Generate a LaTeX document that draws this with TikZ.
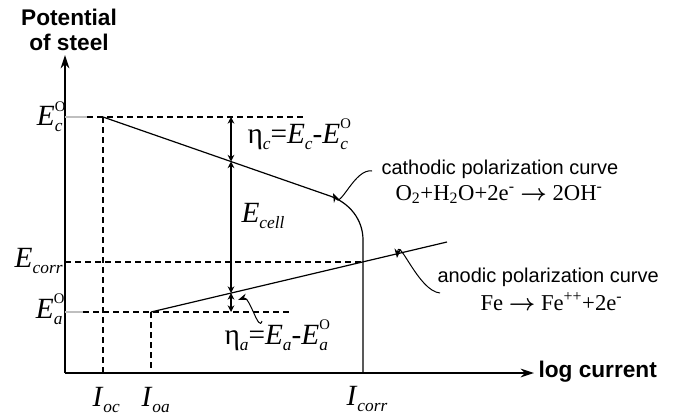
\documentclass[tikz,border=0pt]{standalone}
\usepackage{fontspec}
\setmainfont{Liberation Serif}
\setsansfont{Liberation Sans}
\usetikzlibrary{arrows.meta}

% E with sub- and superscript, I with subscript
\newcommand{\Evar}[2]{\textit{E}\rlap{\raisebox{11pt}{\fontsize{11}{11}\selectfont #2}}\raisebox{-4.5pt}{\fontsize{13}{13}\selectfont\itshape #1}}
\newcommand{\Ivar}[1]{\textit{I}\raisebox{-4.5pt}{\fontsize{13}{13}\selectfont\itshape #1}}

\tikzset{every picture/.style={line width=0.75pt}}

\begin{document}
\begin{tikzpicture}[x=0.75pt,y=0.75pt,yscale=-1,xscale=1,
  axis/.style={line width=1pt,-{Stealth[length=10pt,width=6.5pt]}},
  guide/.style={dash pattern=on 4.5pt off 3pt,line width=0.85pt},
  curve/.style={line width=0.9pt},
  rest/.style={line width=2pt,black!25},
  gap/.style={line width=0.8pt,{Stealth[length=5pt,width=5pt]}-{Stealth[length=5pt,width=5pt]}},
  callout/.style={line width=0.75pt,-{Stealth[length=7pt,width=5pt]}},
  tag/.style={font=\fontsize{22}{22}\selectfont,inner sep=0pt},
  note/.style={font=\fontsize{15}{15}\selectfont\sffamily,inner sep=0pt},
  react/.style={font=\fontsize{17}{17}\selectfont,inner sep=0pt},
  title/.style={font=\fontsize{17}{19}\selectfont\sffamily\bfseries,inner sep=0pt,align=center}]

\useasboundingbox (0,0) rectangle (673,417);

% key points
\coordinate (O) at (65,373);
\coordinate (ytop) at (65,55);
\coordinate (xend) at (534,373);
\coordinate (EcL) at (65,117);
\coordinate (Ec) at (103,117);
\coordinate (EcD) at (87,117);
\coordinate (EcR) at (303,117);
\coordinate (bend) at (330,196);
\coordinate (knee) at (363,240);
\coordinate (Icorr) at (363,373);
\coordinate (EaL) at (65,312);
\coordinate (EaD) at (83,312);
\coordinate (Ea) at (151,312);
\coordinate (EaR) at (290,312);
\coordinate (aend) at (447,242);
\coordinate (corrL) at (65,262);
\coordinate (corrR) at (363,262);
\coordinate (Ioc) at (103,373);
\coordinate (Ioa) at (151,373);

%Axes
\draw [axis] (O) -- (ytop);
\draw [axis] (O) -- (xend);
\node [title] (ylab) at (69,30) {Potential\\of steel};
\node [title,anchor=west] (xlab) at (538,372) {log current};

%Rest potentials
\draw [rest] (EcL) -- (EcD);
\draw [guide] (EcD) -- (EcR);
\draw [rest] (EaL) -- (EaD);
\draw [guide] (EaD) -- (EaR);
\draw [guide] (corrL) -- (corrR);
\draw [guide] (Ec) -- (Ioc);
\draw [guide] (Ea) -- (Ioa);

%Cathodic polarization curve
\draw [curve] (Ec) -- (bend) .. controls (350,203) and (363,220) .. (knee) -- (Icorr);
%Anodic polarization curve
\draw [curve] (Ea) -- (aend);

%Overpotentials and cell potential
\coordinate (gTop) at (231,117);
\coordinate (gC) at (231,161.5);
\coordinate (gA) at (231,293);
\coordinate (gBot) at (231,312);
\draw [gap] (gTop) -- (gC);
\draw [gap] (gC) -- (gA);
\draw [gap] (gA) -- (gBot);

% Text Node
\node [tag,anchor=base east] (Ec0) at (63,126) {\Evar{c}{O}};
\node [tag,anchor=base east] (Ecorr) at (63,267) {\Evar{corr}{}};
\node [tag,anchor=base east] (Ea0) at (63,318) {\Evar{a}{O}};
\node [tag,anchor=base west] (Ioclab) at (92,406) {\Ivar{oc}};
\node [tag,anchor=base west] (Ioalab) at (141,406) {\Ivar{oa}};
\node [tag,anchor=base west] (Icorrlab) at (346,405) {\Ivar{corr}};
\node [tag,anchor=base west] (etac) at (247,143) {η\raisebox{-4.5pt}{\fontsize{13}{13}\selectfont\itshape c}=\Evar{c}{}-\Evar{c}{O}};
\node [tag,anchor=base west] (Ecell) at (241,222) {\Evar{cell}{}};
\node [tag,anchor=base west] (etaa) at (224,344) {η\raisebox{-4.5pt}{\fontsize{13}{13}\selectfont\itshape a}=\Evar{a}{}-\Evar{a}{O}};

\node [note,anchor=base west] (cath) at (381,174) {cathodic polarization curve};
\node [react,anchor=base west] (cathrx) at (395,200) {O\textsubscript{2}+H\textsubscript{2}O+2e\textsuperscript{-} {\boldmath$\rightarrow$} 2OH\textsuperscript{-}};
\node [note,anchor=base west] (anod) at (437,282) {anodic polarization curve};
\node [react,anchor=base west] (anodrx) at (480,310) {Fe {\boldmath$\rightarrow$} Fe\textsuperscript{++}+2e\textsuperscript{-}};

%Callouts
\coordinate (cTail) at (372,171);
\coordinate (cTip) at (333,193);
\coordinate (aTail) at (440,293);
\coordinate (aTip) at (397,258);
\coordinate (eTail) at (262,321);
\coordinate (eTip) at (238,300);
\draw [callout] (cTail) to[out=190,in=65] (cTip);
\draw [callout] (aTail) to[out=185,in=-85] (aTip);
\draw [callout] (eTail) to[out=105,in=-20] (eTip);
\end{tikzpicture}
\end{document}
